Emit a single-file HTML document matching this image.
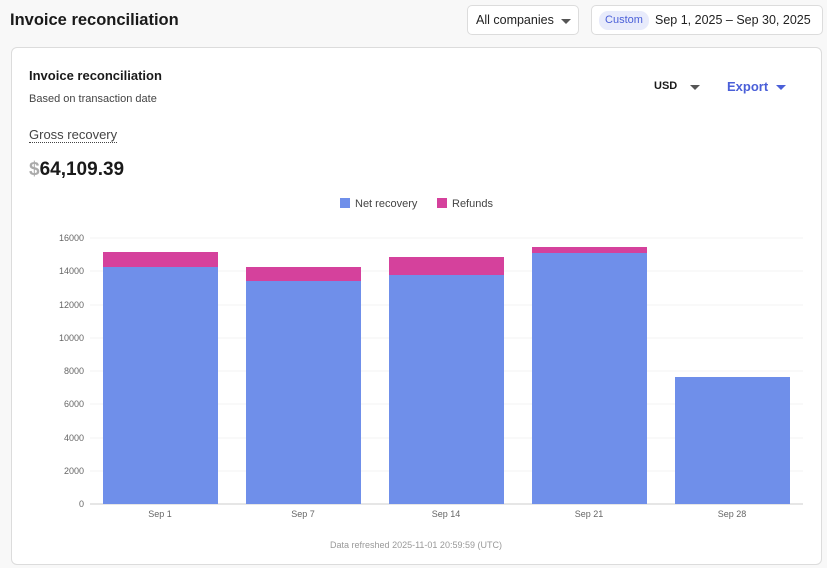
<!DOCTYPE html>
<html><head><meta charset="utf-8"><style>
*{margin:0;padding:0;box-sizing:border-box}
body{width:827px;height:568px;background:#f8f8f8;font-family:"Liberation Sans",sans-serif;position:relative;overflow:hidden;color:#1a1a1a}
.abs{position:absolute}
.btn{position:absolute;background:#fff;border:1px solid #dcdcdc;border-radius:5px}
.card{position:absolute;left:11px;top:47px;width:811px;height:518px;background:#fff;border:1px solid #dcdcdc;border-radius:6px}
.tri{display:inline-block;width:0;height:0;border-left:5px solid transparent;border-right:5px solid transparent;border-top:5px solid #555}
</style></head><body>
<div class="abs" style="left:10px;top:11px;font-size:16.5px;font-weight:bold">Invoice reconciliation</div>
<div class="btn" style="left:467px;top:5px;width:112px;height:30px"><span class="abs" style="left:8px;top:7px;font-size:12.5px;color:#222">All companies</span><span class="abs tri" style="left:93px;top:13px"></span></div>
<div class="btn" style="left:591px;top:5px;width:232px;height:30px">
<span class="abs" style="left:7px;top:5px;width:50px;height:19px;background:#e8ebfb;border-radius:9px;color:#4a5fd8;font-size:11px;text-align:center;line-height:19px">Custom</span>
<span class="abs" style="left:63px;top:7px;font-size:12.5px;color:#222">Sep 1, 2025 – Sep 30, 2025</span></div>
<div class="card"></div>
<div class="abs" style="left:29px;top:68px;font-size:13px;font-weight:bold">Invoice reconciliation</div>
<div class="abs" style="left:29px;top:93px;font-size:11px;color:#444">Based on transaction date</div>
<div class="abs" style="left:654px;top:80px;font-size:11px;font-weight:bold">USD</div>
<span class="abs tri" style="left:690px;top:85px"></span>
<div class="abs" style="left:727px;top:79px;font-size:13px;font-weight:bold;color:#4a5fd8">Export</div>
<span class="abs tri" style="left:776px;top:85px;border-top-color:#4a5fd8"></span>
<div class="abs" style="left:29px;top:127px;font-size:13px;color:#444;border-bottom:1px dotted #444;line-height:15px">Gross recovery</div>
<div class="abs" style="left:29px;top:159px;font-size:19px;font-weight:bold"><span style="color:#aaa">$</span>64,109.39</div>
<svg class="abs" style="left:0;top:0" width="827" height="568" font-family="Liberation Sans, sans-serif">
<rect x="340" y="198" width="10" height="10" fill="#6f8fea"/><text x="355" y="207" font-size="11" fill="#444">Net recovery</text>
<rect x="437" y="198" width="10" height="10" fill="#d5419c"/><text x="452" y="207" font-size="11" fill="#444">Refunds</text>
<g stroke="#f3f3f3">
<line x1="90" x2="803" y1="238" y2="238"/><line x1="90" x2="803" y1="271" y2="271"/><line x1="90" x2="803" y1="305" y2="305"/><line x1="90" x2="803" y1="338" y2="338"/><line x1="90" x2="803" y1="371" y2="371"/><line x1="90" x2="803" y1="404" y2="404"/><line x1="90" x2="803" y1="438" y2="438"/><line x1="90" x2="803" y1="471" y2="471"/></g>
<line x1="90" x2="803" y1="504" y2="504" stroke="#ccc"/>
<g font-size="9" fill="#666" text-anchor="end">
<text x="84" y="241">16000</text><text x="84" y="274">14000</text><text x="84" y="308">12000</text><text x="84" y="341">10000</text><text x="84" y="374">8000</text><text x="84" y="407">6000</text><text x="84" y="441">4000</text><text x="84" y="474">2000</text><text x="84" y="507">0</text></g>
<g fill="#6f8fea">
<rect x="103" y="267" width="115" height="237"/><rect x="246" y="281" width="115" height="223"/><rect x="389" y="275" width="115" height="229"/><rect x="532" y="253" width="115" height="251"/><rect x="675" y="377" width="115" height="127"/></g>
<g fill="#d5419c">
<rect x="103" y="252" width="115" height="15"/><rect x="246" y="267" width="115" height="14"/><rect x="389" y="257" width="115" height="18"/><rect x="532" y="247" width="115" height="6"/></g>
<g font-size="9" fill="#666" text-anchor="middle">
<text x="160" y="517">Sep 1</text><text x="303" y="517">Sep 7</text><text x="446" y="517">Sep 14</text><text x="589" y="517">Sep 21</text><text x="732" y="517">Sep 28</text></g>
<text x="416" y="548" font-size="9" fill="#999" text-anchor="middle">Data refreshed 2025-11-01 20:59:59 (UTC)</text>
</svg>
</body></html>
